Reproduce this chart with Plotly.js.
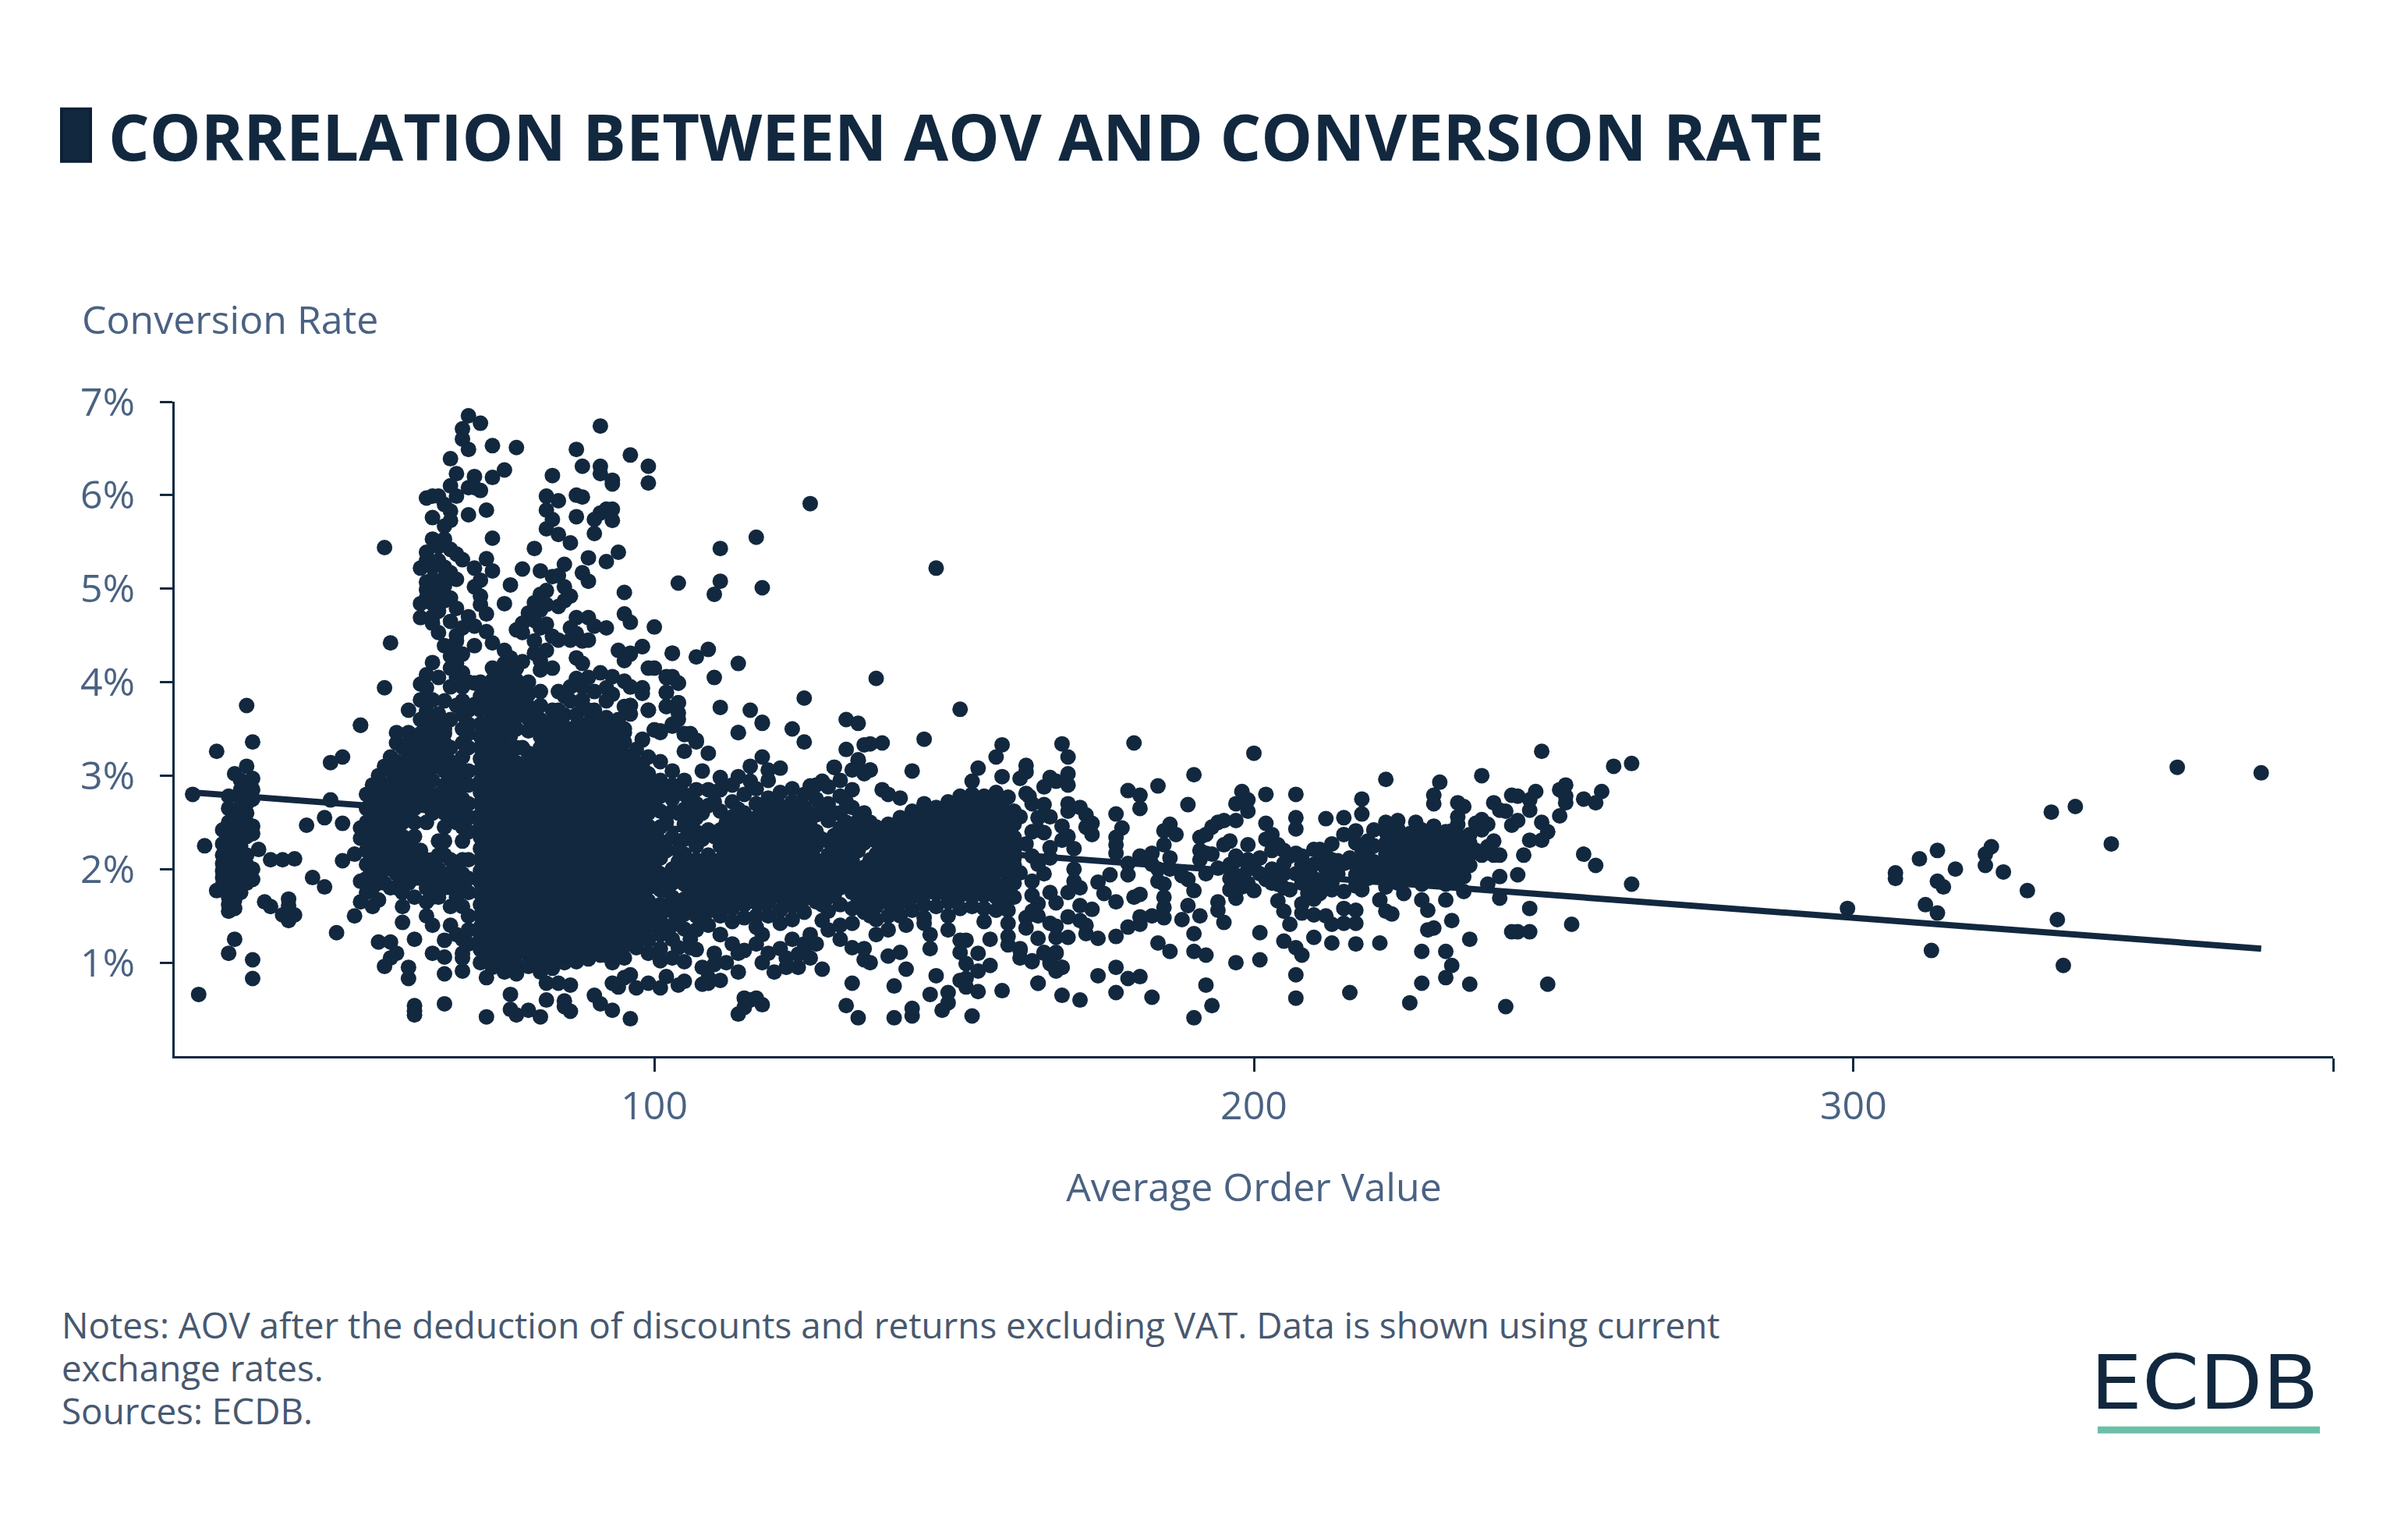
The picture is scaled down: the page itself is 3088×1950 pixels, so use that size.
<!DOCTYPE html>
<html><head><meta charset="utf-8">
<script src="https://cdn.plot.ly/plotly-3.0.1.min.js"></script>
<style>html,body{margin:0;padding:0;background:#fff}</style></head><body>
<div id="chart" style="width:3088px;height:1950px"></div>
<script>
const chartTitle = "CORRELATION BETWEEN AOV AND CONVERSION RATE";
const yAxisName = "Conversion Rate";
const xAxisName = "Average Order Value";
const noteLines = ["Notes: AOV after the deduction of discounts and returns excluding VAT. Data is shown using current","exchange rates.","Sources: ECDB."];
const brand = "ECDB";
const xTickValues = [100,200,300,380];
const xTickLabels = ["100","200","300",""];
const yTickValues = [1,2,3,4,5,6,7];
const yTickLabels = ["1%","2%","3%","4%","5%","6%","7%"];
const trendX = [23,368];
const trendY = [2.82,1.15];

// readings as x,y,x,y,...
const farRightPairs = [299,1.58,307,1.96,307,1.9,311,2.11,314,2.2,317,2,314,1.87,315,1.81,312,1.62,314,1.53,313,1.13,322,2.16,323,2.24,322,2.04,325,1.97,329,1.77,333,2.61,337,2.67,343,2.27,334,1.46,335,.97,354,3.09,368,3.03];
const westPairs = [24,.66,23,2.8,25,2.25,27,3.26,29,2.78,30,3.02,32,3.75,33,3.36,32,3.1,33,2.97,32,2.86,46,2.74,45,2.55,48,2.49,42,2.47,48,3.2,46,3.14,51,3.54,34,2.21,36,2.1,38,2.1,40,2.11,27,1.77,31,1.75,29,1.55,30,1.58,35,1.65,36,1.6,39,1.68,39,1.61,38,1.51,40,1.51,39,1.45,30,1.25,29,1.1,33,1.03,33,.83,43,1.91,45,1.81,48,2.09,50,2.16,51,1.87,51,1.65,50,1.5,47,1.32,54,1.67,58,1.43,54,1.22,56,1.22,57,1.1,56,1.05,55,.96,59,.95,59,.83,60,1.25,60,.54,60,.48,60,.44,65,.56,65,.88,65,1.06,63,1.1,62,1.5,63,1.4,65,1.24,68,.91,68,1.05,72,.84,72,.42,76,.5,77,.44,79,.49,81,.42,82,.6,85,.59,85,.53,86,.48,90,.65,91,.56,93,.49,96,.4,76,.66,86,.76,84,.78,82,.78,93,.78,94,.74,95,.84,96,.87,97,.73,99,.78,101,.73,104,.76,108,.77,109,.84,111,.81,105,1.01,104,1.16,106,1.16,107,1.14,105,1.36,101,1.02,102,.85,114,.45,115,.52,115,.62,110,1.1,110,.98,112,1,111,1.3,115,1.13,51,2.44,51,2.33,53,2.71,54,2.8];
const westColumns = [[28,2.42,2.27,2.15,2.06,1.98,1.91,1.83],[29,2.65,2.5,2.4,2.3,2.2,2.1,2,1.9,1.8,1.7,1.62],[30,2.55,2.2,2.05,1.95,1.85,1.75,1.67],[31,2.95,2.85,2.75,2.65,2.55,2.45,2.35,2.25,2.15,2.05,1.95,1.85],[32,2.9,2.7,2.6,2.5,2.35,2.15,2.05,1.95,1.85],[33,2.85,2.75,2.46,2.38,2,1.89]];
const spikeWest = [69,6.85,71,6.77,68,6.71,68,6.6,69,6.49,73,6.53,77,6.51,66,6.39,67,6.23,70,6.2,73,6.19,75,6.27,66,6.1,67,5.99,69,6.08,70,6.08,71,6.05,62,5.97,63,5.99,64,5.99,65,5.9,66,5.83,63,5.76,69,5.79,72,5.84,65,5.67,66,5.73,63,5.53,65,5.53,73,5.54,55,5.44,62,5.39,64,5.45,66,5.42,67,5.37,68,5.31,72,5.32,73,5.19,70,5.22,61,5.22,63,5.23,65,5.23,66,5.17,71,5.09,70,5.02,62,5.07,62,4.99,65,5.03,64,5.03,71,4.92,71,4.83,72,4.73,61,4.84,61,4.69,63,4.84,65,4.87,64,4.76,67,4.79,69,4.7,63,4.63,64,4.53,68,4.58,70,4.6,72,4.54,73,4.42,56,4.42,66,4.38,65,4.39,67,4.44,70,4.39,66,4.28,67,4.2,63,4.21,62,4.08,61,3.98,62,3.94,55,3.94,70,3.99,61,3.81,63,3.81,65,3.8,59,3.7,62,3.69,64,3.66,66,3.6,70,3.76,69,3.55,51,3.54,57,3.46,59,3.46,62,3.49,64,3.51,65,3.45,69,3.45];
const spikeEast = [91,6.74,87,6.49,96,6.43,99,6.31,99,6.13,88,6.31,91,6.31,91,6.23,93,6.16,93,6.12,83,6.21,82,5.99,84,5.94,87,6,88,5.98,82,5.84,87,5.77,92,5.85,93,5.85,91,5.81,90,5.74,93,5.73,83,5.74,82,5.64,84,5.58,86,5.49,90,5.59,80,5.43,89,5.33,92,5.29,94,5.39,85,5.26,78,5.21,81,5.19,83,5.13,84,5.14,88,5.17,89,5.08,76,5.04,85,5.02,82,4.98,81,4.94,86,4.92,75,4.84,80,4.85,85,4.87,82,4.83,84,4.81,95,4.96,95,4.73,96,4.64,100,4.59,79,4.74,81,4.77,87,4.69,89,4.69,78,4.63,80,4.66,82,4.62,77,4.56,78,4.53,81,4.58,86,4.58,90,4.6,92,4.58,87,4.52,88,4.44,89,4.45,80,4.44,83,4.49,84,4.45,86,4.45,94,4.34,96,4.31,98,4.38,95,4.23,103,4.31,107,4.27,109,4.35,114,4.2,100,4.15,80,4.31,81,4.23,82,4.34,87,4.26,88,4.2,75,4.34,76,4.26,78,4.22,81,4.13,83,4.15,87,4.04,89,4.05,91,4.1,93,4.06,95,4.01,96,3.95,98,3.94,102,4.06,103,4.06,104,3.99,102,3.89,110,4.05,92,3.94,93,3.87,88,3.81,92,3.8,95,3.74,96,3.75,99,3.7,102,3.74,104,3.78,104,3.67,104,3.6,111,3.73,116,3.7,118,3.57,114,3.46,100,3.49,101,3.48,103,3.55,105,3.45,106,3.45,107,3.38,98,3.39,111,5.43,117,5.55,111,5.08,110,4.94,118,5.01,104,5.06];
const midNorth = [126,5.91,147,5.22,137,4.04,125,3.83,151,3.71,132,3.6,134,3.56,123,3.5,125,3.36,145,3.39,138,3.35,136,3.34,135,3.33,132,3.28,134,3.17,130,3.09,136,3.06,143,3.05,135,3.02,158,3.33,157,3.2,154,3.08,153,2.94,158,2.99,162,3.11,162,3.04,161,2.97,98,4.38,96,4.3,103,4.31,99,4.15,102,4.05,103,4.05,104,3.99,98,3.93,98,3.88,96,3.95,102,3.89,104,3.78,102,3.74,99,3.7,96,3.75,96,3.66,118,3.56,114,3.46,106,3.44,105,3.44,100,3.49,101,3.46,103,3.53,98,3.38,95,3.46,105,3.26,109,3.24,108,3.05,111,2.98,107,3.36,118,3.2,116,3.1,121,3.08,119,3.06,114,2.99,116,2.94,134,3.16,136,3.06,133,3.06,130,3.09,128,2.94,126,2.89,138,2.85,139,2.8,141,2.76,145,2.7];
const midSouth = [132,.54,134,.41,140,.41,143,.43,143,.51,133,.78,140,.75,146,.66,147,.86,142,.93,139,1.07,141,1.11,136,1,135,1.03,135,1.15,133,1.16,128,.93,124,.95,122,.95,125,1.15,124,1.09,154,1.1,156,.97,152,.99,154,.91,152,.83,151,.81,152,.74,156,1.25,151,1.24,152,1.24,151,1.11,146,1.15,146,1.3,149,1.35,159,1.28,159,1.19,161,1.15,161,1.05,163,1.01,165,1.11,167,1.11,166,1.01,168,.95,167,.91,158,.7,154,.69,153,.43,149,.68,149,.57,148,.49,164,.78,168,.65,171,.6,177,.68,174,.86,177,.95,179,.83,181,.85,183,.63,103,1.05,105,.8,106,1.25,108,.95,109,.78,113,1.2,114,.9,114,1.1,116,.6,117,.62,117,1.2,118,1,118,.55,118,1.3,119,1.1,120,.9,121,1.15,122,1.05,123,1.25,125,1.2,126,1.3,126,1.05,127,1.2,128,1.45,129,1.35,131,1.25,131,1.4,137,1.3,139,1.35,142,1.4,145,1.42];
const eastBand = [168,3.34,169,3.2,180,3.35,200,3.24,169,3.02,169,2.9,166,2.98,167,2.94,165,2.88,190,3.01,184,2.89,179,2.84,181,2.79,181,2.65,189,2.69,177,2.59,178,2.44,177,2.34,177,2.26,177,2.17,169,2.7,169,2.62,171,2.66,172,2.58,173,2.49,172,2.45,173,2.37,168,2.46,169,2.35,168,2.31,170,2.22,165,2.69,166,2.56,164,2.42,165,2.39,166,2.23,162,2.81,162.5,2.78,160,2.62,161,2.56,160,2.34,162,2.27,160,2.12,166,2.12,186,2.48,185,2.41,187,2.37,185,2.26,186,2.12,181,2.14,183,2.17,179,2.06,183,2.05,179,1.94,176,1.94,174,1.86,175,1.74,177,1.65,170,2,170,1.87,171,1.8,169,1.75,167,1.64,164,1.63,166,1.75,165,1.95,161,1.96,163,1.87,180,1.7,181,1.73,184,1.87,185,1.84,185,1.7,185,1.59,185,1.48,183,1.5,181,1.49,181,1.41,179,1.38,177,1.28,174,1.26,172,1.31,173,1.57,171,1.61,169,1.49,166,1.42,167,1.39,162,1.48,162,1.37,164,1.26,167,1.27,169,1.27,172,1.4,171,1.45,161,1.13,163,1.02,165,1.1,167,1.1,166,.99,168,.95,167,.92,164,.78,184,1.21,186,1.12,190,1.31,190,1.12,192,1.08,192,.76,193,.54,190,.41,197,1,201,1.03,201,1.32,205,1.23,207,1.16,208,1.08,207,.87,207,.62,216,.68,210,1.27,213,1.21,217,1.2,189,1.61,191,1.5,188,1.46,194,1.65,194,1.56,195,1.43,190,1.77,189,1.89,188,1.93,186,2,184,2,192,2.37,191,2.34,191,2.2,191,2.1,192,2.17,193,2.16,192,1.95,194,2.01,193,2.45,194,2.5,195,2.52,197,2.52,197,2.7,198,2.83,199,2.74,199,2.62,202,2.8,207,2.8,207,2.55,207,2.43,202,2.49,195,2.26,197,2.14,197,2.09,199,2.26,201,2.12,200,2.02,203,2.37,204,2.26,202,2.32,212,2.54,215,2.55,215,2.37,217,2.41,218,2.75,218,2.59,207,2.17,206,2.14,208,2.14,210,2.21,211,2.21,213,2.27,211,2.1,209,1.96,207,1.95,205,2.06,203,2,211,1.74,213,1.78,209,1.74,215,1.76,205,1.8,204,1.66,205,1.55,206,1.41,208,1.53,208,1.63,210,1.51,212,1.5,213,1.41,215,1.58,217,1.56,215,1.42,217,1.42,201,1.95,198,1.81,200,1.77,197,1.69,202,1.89,204,1.84,206,1.78,215,2.06,214,2.09,216,2.12,198,1.9,208,1.85,210,1.9,212,1.85,214,1.95,196,1.78];
const eastEdge = [248,3.26,260,3.1,263,3.13,238,3,231,2.93,222,2.96,252,2.9,251,2.85,258,2.83,247,2.83,230,2.79,230,2.7,234,2.71,235,2.67,240,2.71,243,2.79,244,2.78,252,2.71,252,2.78,255,2.75,257,2.71,246,2.63,246,2.74,251,2.57,234,2.56,242,2.62,241,2.63,244,2.52,243,2.47,248,2.5,249,2.4,248,2.31,246,2.31,222,2.5,224,2.52,227,2.5,230,2.46,234,2.48,233,2.41,237,2.49,238,2.53,239,2.48,238,2.42,236,2.37,245,2.15,255,2.16,257,2.04,263,1.84,244,1.94,241,1.92,239,1.84,241,1.69,246,1.58,253,1.41,244,1.33,240,2.3,239,2.24,240,2.15,241,2.15,235,1.76,235,1.92,235,2,232,1.84,232,1.67,228,1.67,225,1.74,222,1.81,221,1.67,222,1.55,223,1.52,229,1.56,233,1.45,230,1.37,229,1.35,236,1.25,221,1.21,228,1.12,232,1.12,233,.97,232,.84,228,.78,226,.57,242,.53,249,.77,236,.77,243,1.33,246,1.33,222,1.9,237,2.2,238,2.15];

// dense parts, one x reading followed by its y readings
const shoulderColumns = [
[52,2.8,2.65,2.5,2.35,2.2,2.05,1.9,1.75],[53,2.9,2.55,2.4,2.25,2.1,1.95,1.8,1.6],[54,3,2.85,2.6,2.45,2.3,2.15,2,1.85],[55,3.1,2.9,2.75,2.6,2.45,2.3,2.15,2,1.85],[56,3.2,3.05,2.9,2.75,2.6,2.45,2.3,2.15,2,1.8],[57,3.35,3.15,3,2.85,2.7,2.55,2.4,2.25,2.1,1.95,1.8],[58,3.3,3.1,2.95,2.8,2.65,2.5,2.35,2.2,2.05,1.9,1.75,1.6],[59,3.35,3.2,3.05,2.9,2.75,2.6,2.3,2.15,2,1.85],[60,3.4,3.25,3.1,2.95,2.8,2.65,2.5,2.35,2.2,2.05,1.9,1.7],[61,3.6,3.45,3.3,3.15,3,2.85,2.7,2.2,2.05,1.9],[62,3.6,3.45,3.3,3.15,3,2.85,2.7,2.5,2.1,1.95,1.8,1.65],[63,3.6,3.4,3.25,3.1,2.95,2.75,2.6,2.1,2,1.85,1.7],[64,3.55,3.4,3.25,3.1,2.8,2.65,2.3,2.15,2,1.85,1.7],[65,3.5,3.35,3.2,3.05,2.9,2.75,2.6,2.45,2.3,2.15,1.95,1.8],[66,3.3,3.15,3,2.85,2.7,2.55,2.1,1.95,1.8,1.6,1.4],[67,3.1,2.95,2.8,2.65,2.5,2,1.85,1.7,1.3],[68,4.1,3.95,3.8,3.65,3.5,3.35,3.2,3.05,2.9,2.75,2.6,2.45,2.3,2.1,1.95,1.8,1.6,1.25,1.1],[69,4,3.7,3.3,3.05,2.9,2.7,2.55,2.4,2.1,1.9,1.75,1.5,1.35,1.2]];
const mainColumns = [
[71,4,3.85,3.7,3.55,3.42,3.3,3.18,3.06,2.94,2.82,2.7,2.58,2.46,2.34,2.22,2.1,1.98,1.86,1.74,1.62,1.5,1.38,1.26,1.14,1],
[73,4.15,4.02,3.89,3.76,3.63,3.5,3.37,3.24,3.12,3,2.88,2.76,2.64,2.52,2.4,2.28,2.16,2.04,1.92,1.8,1.68,1.56,1.44,1.32,1.2,1.08,.95],
[75,4.2,4.07,3.94,3.81,3.68,3.55,3.42,3.29,3.17,3.05,2.93,2.81,2.69,2.57,2.45,2.33,2.21,2.09,1.97,1.85,1.73,1.61,1.49,1.37,1.25,1.13,1.01,.9],
[77,4.15,4.02,3.89,3.76,3.63,3.5,3.3,3.14,3.02,2.9,2.78,2.66,2.54,2.42,2.3,2.18,2.06,1.94,1.82,1.7,1.58,1.46,1.34,1.22,1.1,.98,.88],
[79,4,3.87,3.74,3.61,3.48,3.24,3.12,3,2.88,2.76,2.64,2.52,2.4,2.28,2.16,2.04,1.92,1.8,1.68,1.56,1.44,1.32,1.2,1.08,.96],
[81,3.9,3.75,3.6,3.42,3.3,3.18,3.06,2.94,2.82,2.7,2.58,2.46,2.34,2.22,2.1,1.98,1.86,1.74,1.62,1.5,1.38,1.26,1.14,1.02,.9],
[83,3.7,3.58,3.46,3.34,3.22,3.1,2.98,2.86,2.74,2.62,2.5,2.38,2.26,2.14,2.02,1.9,1.78,1.66,1.54,1.42,1.3,1.18,1.06,.94],
[85,3.85,3.65,3.52,3.4,3.28,3.16,3.04,2.92,2.8,2.68,2.56,2.44,2.32,2.2,2.08,1.96,1.84,1.72,1.6,1.48,1.36,1.24,1.12,1],
[87,3.65,3.53,3.41,3.29,3.17,3.05,2.93,2.81,2.69,2.57,2.45,2.33,2.21,2.09,1.97,1.85,1.73,1.61,1.49,1.37,1.25,1.13,1.01],
[89,3.7,3.56,3.44,3.32,3.2,3.08,2.96,2.84,2.72,2.6,2.48,2.36,2.24,2.12,2,1.88,1.76,1.64,1.52,1.4,1.28,1.16,1.04],
[91,3.6,3.48,3.36,3.24,3.12,3,2.88,2.76,2.64,2.52,2.4,2.28,2.16,2.04,1.92,1.8,1.68,1.56,1.44,1.32,1.2,1.08],
[93,3.55,3.42,3.3,3.18,3.06,2.94,2.82,2.7,2.58,2.46,2.34,2.22,2.1,1.98,1.86,1.74,1.62,1.5,1.38,1.26,1.14,1],
[95,3.5,3.36,3.22,3.1,2.98,2.86,2.74,2.62,2.5,2.38,2.26,2.14,2.02,1.9,1.78,1.66,1.54,1.42,1.3,1.18,1.05],
[97,3.28,3.14,3,2.86,2.72,2.6,2.48,2.36,2.24,2.12,2,1.88,1.76,1.64,1.52,1.4,1.28,1.16],
[99,3.2,3.02,2.88,2.74,2.6,2.46,2.34,2.22,2.08,1.94,1.8,1.66,1.52,1.38,1.24,1.1],
[101,3.15,2.95,2.78,2.62,2.45,2.3,2.12,1.95,1.78,1.62,1.46,1.3,1.15]];
const mainInfill = [
[72,3.9,3.72,3.55,3.36,3.18,3.06,2.94,2.82,2.7,2.58,2.46,2.34,2.22,2.1,1.98,1.86,1.74,1.62,1.5,1.38,1.26,1.14,1.05],
[74,4.1,3.95,3.82,3.69,3.56,3.43,3.3,3.18,3.06,2.94,2.82,2.7,2.58,2.46,2.34,2.22,2.1,1.98,1.86,1.74,1.62,1.5,1.38,1.26,1.14,1.02],
[76,4.1,3.95,3.82,3.69,3.56,3.43,3.2,3.06,2.94,2.82,2.7,2.58,2.46,2.34,2.22,2.1,1.98,1.86,1.74,1.62,1.5,1.38,1.26,1.14,1.02],
[78,3.95,3.8,3.65,3.3,3.06,2.94,2.82,2.7,2.58,2.46,2.34,2.22,2.1,1.98,1.86,1.74,1.62,1.5,1.38,1.26,1.14],
[80,3.7,3.55,3.2,3.06,2.94,2.82,2.7,2.58,2.46,2.34,2.22,2.1,1.98,1.86,1.74,1.62,1.5,1.38,1.26,1.14,1.03],
[82,3.52,3.28,3.16,3.04,2.92,2.8,2.68,2.56,2.44,2.32,2.2,2.08,1.96,1.84,1.72,1.6,1.48,1.36,1.24,1.12],
[84,3.6,3.34,3.22,3.1,2.98,2.86,2.74,2.62,2.5,2.38,2.26,2.14,2.02,1.9,1.78,1.66,1.54,1.42,1.3,1.18,1.06],
[86,3.46,3.34,3.22,3.1,2.98,2.86,2.74,2.62,2.5,2.38,2.26,2.14,2.02,1.9,1.78,1.66,1.54,1.42,1.3,1.18,1.07],
[88,3.5,3.38,3.26,3.14,3.02,2.9,2.78,2.66,2.54,2.42,2.3,2.18,2.06,1.94,1.82,1.7,1.58,1.46,1.34,1.22,1.1],
[90,3.42,3.3,3.18,3.06,2.94,2.82,2.7,2.58,2.46,2.34,2.22,2.1,1.98,1.86,1.74,1.62,1.5,1.38,1.26,1.14],
[92,3.36,3.24,3.12,3,2.88,2.76,2.64,2.52,2.4,2.28,2.16,2.04,1.92,1.8,1.68,1.56,1.44,1.32,1.2,1.08],
[94,3.3,3.16,3.04,2.92,2.8,2.68,2.56,2.44,2.32,2.2,2.08,1.96,1.84,1.72,1.6,1.48,1.36,1.24,1.12],
[96,3.2,3.06,2.92,2.8,2.68,2.56,2.44,2.32,2.2,2.08,1.96,1.84,1.72,1.6,1.46,1.34,1.22],
[98,3.1,2.95,2.8,2.66,2.54,2.42,2.28,2.14,2,1.87,1.73,1.59,1.45,1.31]];
const spikeFill = [[62,5.3,4.9],[63,5.1,4.7],[64,5.3,4.9,4.05],[65,5.12],[66,4.9,4.65,4.15,3.95],[67,5.1,4.5,4.05,3.75],[68,4.3],[84,3.9,3.7],[86,3.8,3.95],[88,3.95,3.75],[90,3.9,3.7],[92,3.62,3.5],[94,3.6,3.48]];
const midColumns = [
[103,3.05,2.9,2.75,2.62,2.34,2,1.85,1.7,1.55,1.4,1.25],[105,2.95,2.8,2.64,2.48,2.32,2.16,2,1.84,1.68,1.52],[107,2.85,2.7,2.55,2.4,2.25,2.1,1.95,1.8,1.65,1.5,1.35],[109,2.85,2.68,2.42,2.15,2,1.85,1.7,1.55,1.4],[111,2.85,2.62,2.42,2.25,2.1,1.95,1.8,1.65,1.5,1.3],
[113,2.9,2.72,2.56,2.42,2.28,2.14,2,1.86,1.72,1.58,1.44],[115,2.8,2.6,2.46,2.32,2.18,2.04,1.9,1.76,1.62,1.48],[117,2.86,2.7,2.55,2.42,2.29,2.16,2.03,1.9,1.77,1.64,1.5,1.38],[119,2.95,2.76,2.62,2.48,2.34,2.2,2.06,1.92,1.78,1.64,1.5],[121,2.82,2.68,2.54,2.4,2.26,2.12,1.98,1.84,1.7,1.56,1.42],
[123,2.86,2.72,2.58,2.44,2.3,2.16,2.02,1.88,1.74,1.6,1.46],[125,2.8,2.66,2.52,2.38,2.24,2.1,1.96,1.82,1.68,1.54],[127,2.9,2.75,2.58,2.4,2.25,2.1,1.95,1.8,1.65],[129,2.88,2.7,2.52,2.3,2.15,2,1.85,1.7,1.55],[131,2.95,2.78,2.6,2.44,2.28,2.12,1.96,1.8,1.62],
[133,2.85,2.66,2.46,2.28,2.1,1.92,1.75,1.58,1.42],[135,2.6,2.44,2.28,2.02,1.86,1.7,1.54],[137,2.45,2.3,2.16,2.02,1.88,1.74,1.6,1.46],[139,2.48,2.34,2.2,2.06,1.92,1.78,1.64,1.5],[141,2.55,2.42,2.29,2.16,2.03,1.9,1.77,1.64,1.5],[143,2.62,2.48,2.35,2.22,2.09,1.96,1.83,1.7,1.56],[145,2.68,2.54,2.4,2.27,2.14,2.01,1.88,1.75,1.62,1.48],[147,2.66,2.52,2.39,2.26,2.13,2,1.87,1.74,1.6],[149,2.72,2.58,2.44,2.31,2.18,2.05,1.92,1.79,1.65,1.5],[151,2.78,2.64,2.5,2.37,2.24,2.11,1.98,1.85,1.72,1.58],[153,2.8,2.66,2.52,2.39,2.26,2.13,2,1.87,1.74,1.6],[155,2.78,2.64,2.5,2.37,2.24,2.11,1.98,1.85,1.72,1.58,1.44],[157,2.82,2.68,2.54,2.4,2.26,2.12,1.98,1.84,1.7,1.56],[159,2.77,2.6,2.45,2.28,2.1,1.92,1.74,1.56,1.42],[163,2.7,2.4,2.14,1.72,1.55],[164,2.55,2.05,1.5]];
const midInfill = [
[100,2.88,2.7,2.38,2.2,2.03,1.86,1.58,1.4],[102,2.85,2.5,2.2,1.92,1.77,1.6,1.33],[104,2.85,2.6,2.2,2.08,1.92,1.6,1.44],[106,2.72,2.56,2.4,2.05,1.9,1.75,1.6],[108,2.6,2.32,2.08,1.92,1.78,1.62,1.46],
[110,2.72,2.35,2.07,1.92,1.77,1.62],[112,2.5,2.35,2.2,2.05,1.9,1.75,1.6],[114,2.64,2.5,2.36,2.22,2.08,1.94,1.8,1.66],[116,2.52,2.38,2.24,2.1,1.96,1.82,1.68],[118,2.62,2.48,2.34,2.2,2.06,1.92,1.78,1.64],[120,2.72,2.58,2.44,2.3,2.16,2.02,1.88,1.74],[122,2.62,2.48,2.34,2.2,2.06,1.92,1.78,1.64],[124,2.66,2.52,2.38,2.24,2.1,1.96,1.82,1.68],[126,2.6,2.46,2.32,2.18,2.04,1.9,1.76],[128,2.64,2.32,2.08,1.92,1.78,1.62],[130,2.6,2.36,2.2,2.04,1.88,1.72],[132,2.72,2.5,2.32,2.16,2,1.84],[134,2.52,2.36,2.2,2,1.84,1.68],[136,2.5,2.36,2.1,1.95,1.78,1.62,1.5],[138,2.38,2.24,2.1,1.96,1.82,1.68],[140,2.46,2.32,2.18,2.04,1.9,1.76,1.62],[142,2.5,2.36,2.22,2.08,1.94,1.8,1.66],[144,2.56,2.42,2.28,2.14,2,1.86,1.72],[146,2.6,2.46,2.32,2.18,2.04,1.9,1.76],[148,2.62,2.48,2.34,2.2,2.06,1.92,1.78],[150,2.68,2.54,2.4,2.26,2.12,1.98,1.84,1.7],[152,2.72,2.58,2.44,2.3,2.16,2.02,1.88,1.74],[154,2.72,2.58,2.44,2.3,2.16,2.02,1.88,1.74],[156,2.72,2.58,2.44,2.3,2.16,2.02,1.88,1.74],[158,2.7,2.55,2.4,2.2,2,1.82,1.65],[160,2.48,2.2,2.05,1.85,1.7]];
const eastColumns = [
[219,2.3,2.15,2.02,1.9],[220,2.42,2.25,2.08,1.95],[222,2.4,2.28,2.16,2.04,1.92],[224,2.43,2.31,2.19,2.07,1.95,1.85],[226,2.38,2.26,2.14,2.02,1.9],[228,2.42,2.3,2.18,2.06,1.94,1.84],[230,2.36,2.24,2.12,2,1.88],[232,2.4,2.28,2.16,2.04,1.92],[234,2.36,2.24,2.12,2,1.9],[236,2.28,2.16,2.04],[218,2.22,2.1,1.98,1.88,1.78],[217,2.28,2.04,1.94,1.82],[212,2.15,2,1.9],[208,2.05,1.95],[210,2.05,1.8,1.68],[213,2.1,1.95,1.85],[205,2.2,1.95],[203,2.2,1.85],[199,2.1,2,1.85],[196,2.3,2.05,1.9]];

// ---- assembly -------------------------------------------------
const pairLists = [farRightPairs,westPairs,spikeWest,spikeEast,midNorth,midSouth,eastBand,eastEdge];
const columnLists = [westColumns,shoulderColumns,mainColumns,mainInfill,spikeFill,midColumns,midInfill,eastColumns];
const xs = [], ys = [];
pairLists.forEach(l => { for (let i = 0; i < l.length; i += 2) { xs.push(l[i]); ys.push(l[i+1]); } });
columnLists.forEach(l => l.forEach(c => c.slice(1).forEach(v => { xs.push(c[0]); ys.push(v); })));

const L = 224, R = 2992, T = 514.5, B = 1354;
const px = v => (v - L) / (R - L), py = v => (B - v) / (B - T);
const navy = "#12283f", slate = "#4a6282", noteCol = "#47586f";
const sans = '"Open Sans", "Noto Sans", sans-serif';
const ann = (text, x, y, size, color, xanchor, family) => ({text, x: px(x), y: py(y), xref:"paper", yref:"paper", xanchor: xanchor || "left", yanchor:"middle", showarrow:false, font:{family: family || sans, size, color}});

Plotly.newPlot("chart", [
  {type:"scatter", mode:"markers", x:xs, y:ys, marker:{size:20, color:navy, line:{width:0}}, hoverinfo:"x+y", showlegend:false},
  {type:"scatter", mode:"lines", x:trendX, y:trendY, line:{color:navy, width:8, shape:"linear"}, hoverinfo:"skip", showlegend:false}
], {
  width:3088, height:1950, paper_bgcolor:"#fff", plot_bgcolor:"#fff",
  font:{family:sans},
  margin:{l:L, r:3088-R, t:T, b:1950-B, pad:0, autoexpand:false},
  title:{text:"<b>"+chartTitle+"</b>", x:139/3088, xanchor:"left", xref:"container", y:1-177/1950, yanchor:"middle", font:{family:sans, size:82.8, color:navy}},
  xaxis:{range:[20,380], tickmode:"array", tickvals:xTickValues, ticktext:xTickLabels, ticks:"outside", ticklen:17, tickwidth:3, tickcolor:navy, showline:true, linecolor:navy, linewidth:3, showgrid:false, zeroline:false, tickfont:{family:sans,size:50,color:slate}, ticklabelstandoff:1, title:{text:xAxisName, font:{family:sans,size:50,color:slate}, standoff:56}},
  yaxis:{range:[0,7], tickmode:"array", tickvals:yTickValues, ticktext:yTickLabels, ticks:"outside", ticklen:16, tickwidth:3, tickcolor:navy, showline:true, linecolor:navy, linewidth:3, showgrid:false, zeroline:false, tickfont:{family:sans,size:50,color:slate}, ticklabelstandoff:22},
  annotations:[
    ann(yAxisName,103,408,50,slate),
    ann(noteLines[0],77,1698,45.8,noteCol),
    ann(noteLines[1],77,1753,45.8,noteCol),
    ann(noteLines[2],77,1808,45.8,noteCol),
    ann(brand,2690,1773,97,navy,"left",'"DejaVu Sans"')
  ],
  shapes:[
    {type:"rect", xref:"paper", yref:"paper", x0:px(79), x1:px(116), y0:py(139), y1:py(206), fillcolor:navy, line:{color:"#0d2035", width:4}},
    {type:"rect", xref:"paper", yref:"paper", x0:px(2690), x1:px(2975), y0:py(1829), y1:py(1838), fillcolor:"#6bbfa9", line:{width:0}}
  ]
}, {displayModeBar:false, staticPlot:true}).then(() => {
  document.querySelectorAll(".annotation-text").forEach(t => {
    if (t.textContent === brand) { t.setAttribute("textLength", "293"); t.setAttribute("lengthAdjust", "spacingAndGlyphs"); }
  });
});
</script></body></html>
